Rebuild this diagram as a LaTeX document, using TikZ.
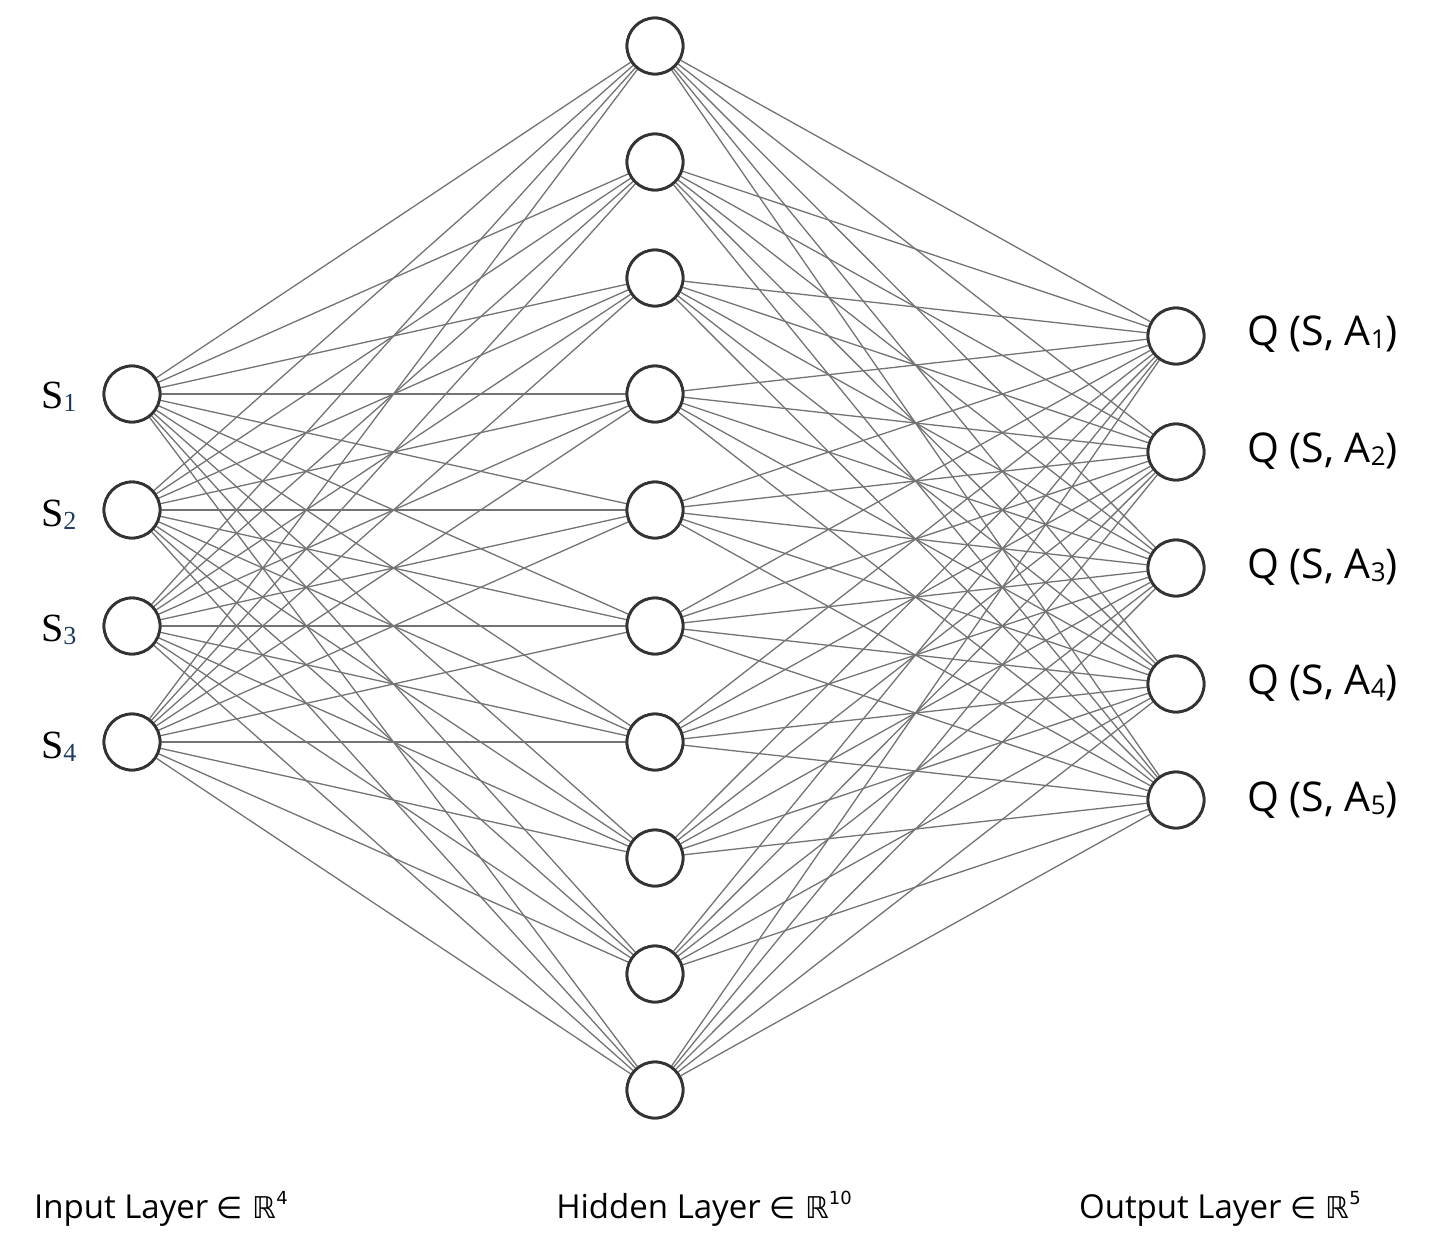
\documentclass[tikz,border=0pt]{standalone}
\usepackage{fontspec}
\setmainfont{Liberation Serif}
\newfontfamily\lblfont{Open Sans}
\newfontfamily\symfont{DejaVu Sans}
\begin{document}
\begin{tikzpicture}[x=0.5pt,y=-0.5pt,
  neuron/.style={circle,draw=black!80,line width=1.4pt,fill=white,minimum size=28pt,inner sep=0pt},
  edge/.style={draw=black!55,line width=0.65pt},
  slabel/.style={font=\fontsize{20}{24}\selectfont,anchor=west},
  qlabel/.style={font=\lblfont\fontsize{20.5}{24}\selectfont,anchor=west},
  layerlabel/.style={font=\lblfont\fontsize{16.5}{19}\selectfont,anchor=base}]
\useasboundingbox (0,0) rectangle (1434,1254);
\foreach \i/\y in {1/394,2/510,3/626,4/742} \node[neuron] (i\i) at (132,\y) {};
\foreach \i in {1,...,10} \node[neuron] (h\i) at (655,{46+116*(\i-1)}) {};
\foreach \i in {1,...,5} \node[neuron] (o\i) at (1176,{336+116*(\i-1)}) {};
\foreach \a in {1,...,4} \foreach \b in {1,...,10} \draw[edge] (i\a) -- (h\b);
\foreach \a in {1,...,10} \foreach \b in {1,...,5} \draw[edge] (h\a) -- (o\b);
\foreach \i/\y in {1/394,2/510,3/626,4/742} \node[neuron] at (i\i) {};
\foreach \i in {1,...,10} \node[neuron] at (h\i) {};
\foreach \i in {1,...,5} \node[neuron] at (o\i) {};
\foreach \i/\y in {1/397,2/515,3/630,4/747}
  \node[slabel] (s\i) at (34,\y) {S\textcolor[HTML]{1F3B5C}{\fontsize{13}{15}\selectfont\raisebox{-0.25ex}{\i}}};
\foreach \i/\y in {1/334,2/451,3/567,4/683,5/800}
  \node[qlabel] (q\i) at (1240,\y) {Q (S, A{\fontsize{13}{15}\selectfont\raisebox{-0.2ex}{\i}})};
\node[layerlabel] (l1) at (161,1218) {Input Layer {\symfont\fontsize{15}{17}\selectfont ∈ ℝ\raisebox{0.8ex}{\fontsize{9}{10}\selectfont 4}}};
\node[layerlabel] (l2) at (704,1218) {Hidden Layer {\symfont\fontsize{15}{17}\selectfont ∈ ℝ\raisebox{0.8ex}{\fontsize{9}{10}\selectfont 10}}};
\node[layerlabel] (l3) at (1220,1218) {Output Layer {\symfont\fontsize{15}{17}\selectfont ∈ ℝ\raisebox{0.8ex}{\fontsize{9}{10}\selectfont 5}}};
\end{tikzpicture}
\end{document}
